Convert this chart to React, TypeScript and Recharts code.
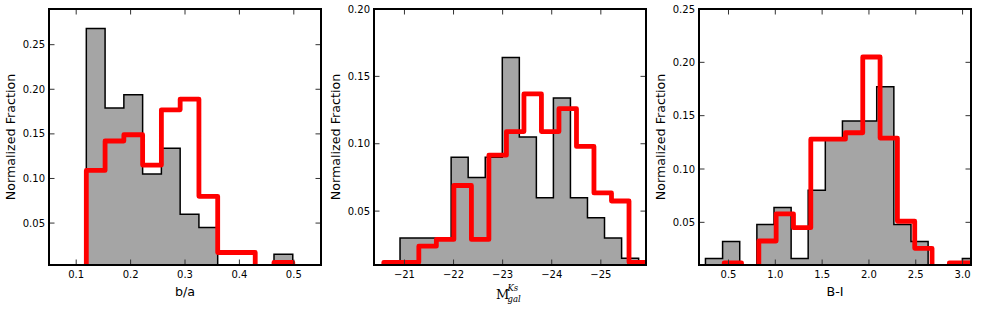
import React from "react";
import { Area, ComposedChart, Line, XAxis, YAxis } from "recharts";

// b/a panel
const baEdges = [0.1186, 0.1531, 0.1876, 0.2221, 0.2566, 0.2911, 0.3256, 0.3601, 0.3946, 0.4291, 0.4636, 0.4981];
const baSample = [0.268, 0.179, 0.194, 0.105, 0.134, 0.06, 0.045, 0, 0, 0, 0.015];
const baRed = [0.109, 0.142, 0.149, 0.115, 0.177, 0.189, 0.08, 0.017, 0.017, 0, 0.006];
const baTicks = [0.1, 0.2, 0.3, 0.4, 0.5];

// M_gal^Ks panel
const magEdges = [-20.91, -21.257, -21.604, -21.951, -22.298, -22.646, -22.993, -23.34, -23.687, -24.034, -24.381, -24.728, -25.075, -25.423, -25.77];
const magSample = [0.03, 0.03, 0.03, 0.09, 0.075, 0.09, 0.164, 0.105, 0.06, 0.134, 0.06, 0.045, 0.03, 0.015];
const magRedEdges = [-20.58, -20.937, -21.293, -21.65, -22.007, -22.364, -22.72, -23.077, -23.434, -23.79, -24.147, -24.504, -24.86, -25.217, -25.574, -25.93];
const magRed = [0.012, 0.012, 0.024, 0.029, 0.069, 0.029, 0.0915, 0.109, 0.137, 0.109, 0.126, 0.098, 0.0635, 0.0575, 0.012];
const magTicks = [-21, -22, -23, -24, -25];

// B-I panel
const biEdges = [0.254, 0.437, 0.62, 0.803, 0.986, 1.169, 1.351, 1.534, 1.717, 1.9, 2.083, 2.266, 2.449, 2.632, 2.815, 2.998, 3.18];
const biSample = [0.016, 0.032, 0, 0.048, 0.064, 0.016, 0.08, 0.127, 0.145, 0.145, 0.177, 0.048, 0.032, 0, 0, 0.016];
const biRedEdges = [0.454, 0.639, 0.824, 1.009, 1.194, 1.379, 1.564, 1.749, 1.934, 2.119, 2.304, 2.489, 2.674, 2.859, 3.044, 3.229];
const biRed = [0.012, 0, 0.0325, 0.058, 0.045, 0.128, 0.128, 0.134, 0.205, 0.129, 0.051, 0.0256, 0, 0.012, 0.012];
const biTicks = [0.5, 1.0, 1.5, 2.0, 2.5, 3.0];

const fracTicks5 = [0.05, 0.1, 0.15, 0.2, 0.25];
const fracTicks4 = [0.05, 0.1, 0.15, 0.2];

const W = 327;
const H = 312;
const PL = 49;
const PT = 9;
const PW = 272;
const PH = 256;
const TICK = 5.5;
const FONT = "'DejaVu Sans', Verdana, sans-serif";

// outline of a step histogram: up from zero at first edge, down to zero at last
function stepRows(edges: number[], vals: number[]) {
  const rows = [{ x: edges[0], y: 0 }];
  vals.forEach((v, i) => rows.push({ x: edges[i], y: v }));
  rows.push({ x: edges[edges.length - 1], y: 0 });
  return rows;
}

function XTick(props: any) {
  const { x, payload, fmt } = props;
  return (
    <g>
      <line x1={x} x2={x} y1={PT + PH} y2={PT + PH - TICK} stroke="#333" strokeWidth={1} />
      <line x1={x} x2={x} y1={PT} y2={PT + TICK} stroke="#333" strokeWidth={1} />
      <text x={x} y={278} textAnchor="middle" fontFamily={FONT} fontSize={10} fill="#000">
        {fmt(payload.value)}
      </text>
    </g>
  );
}

function YTick(props: any) {
  const { y, payload } = props;
  return (
    <g>
      <line x1={PL} x2={PL + TICK} y1={y} y2={y} stroke="#333" strokeWidth={1} />
      <line x1={PL + PW - TICK} x2={PL + PW} y1={y} y2={y} stroke="#333" strokeWidth={1} />
      <text x={PL - 4} y={y + 3.6} textAnchor="end" fontFamily={FONT} fontSize={10} fill="#000">
        {payload.value.toFixed(2)}
      </text>
    </g>
  );
}

const yLabel = () => (
  <text
    x={10}
    y={137}
    transform="rotate(-90 10 137)"
    textAnchor="middle"
    dominantBaseline="central"
    fontFamily={FONT}
    fontSize={12.7}
    fill="#000"
  >
    Normalized Fraction
  </text>
);

const plainXLabel = (text: string) => () => (
  <text x={PL + PW / 2} y={296} textAnchor="middle" fontFamily={FONT} fontSize={12.7} fill="#000">
    {text}
  </text>
);

const mathXLabel = () => {
  const cx = PL + PW / 2;
  const serif = "'DejaVu Serif', 'Liberation Serif', serif";
  return (
    <g fontFamily={serif} fill="#000">
      <text x={cx - 14} y={299} fontSize={13}>M</text>
      <text x={cx - 2.5} y={291} fontSize={8.5} fontStyle="italic">Ks</text>
      <text x={cx - 2.5} y={302} fontSize={8.5} fontStyle="italic">gal</text>
    </g>
  );
};

interface PanelProps {
  left: number;
  edges: number[];
  sample: number[];
  redEdges: number[];
  red: number[];
  xDomain: [number, number];
  xTicks: number[];
  reversed?: boolean;
  yDomain: [number, number];
  yTicks: number[];
  fmt: (v: number) => string;
  xLabel: any;
}

function Panel(p: PanelProps) {
  return (
    <div style={{ position: "absolute", left: p.left, top: 0, width: W, height: H }}>
      <ComposedChart width={W} height={H} margin={{ top: PT, right: W - PL - PW, bottom: 0, left: 0 }}>
        <XAxis
          dataKey="x"
          type="number"
          domain={p.xDomain}
          reversed={p.reversed}
          allowDataOverflow
          ticks={p.xTicks}
          interval={0}
          height={H - PT - PH}
          tickSize={0}
          tickMargin={0}
          axisLine={false}
          tickLine={false}
          tick={(t: any) => <XTick {...t} fmt={p.fmt} />}
          label={p.xLabel}
        />
        <YAxis
          type="number"
          domain={p.yDomain}
          allowDataOverflow
          ticks={p.yTicks}
          interval={0}
          width={PL}
          tickSize={0}
          tickMargin={0}
          axisLine={false}
          tickLine={false}
          tick={(t: any) => <YTick {...t} />}
          label={yLabel}
        />
        <Area
          data={stepRows(p.edges, p.sample)}
          type="stepAfter"
          dataKey="y"
          fill="#a5a5a5"
          fillOpacity={1}
          stroke="#000"
          strokeWidth={1.5}
          dot={false}
          activeDot={false}
          isAnimationActive={false}
        />
        <Line
          data={stepRows(p.redEdges, p.red)}
          type="stepAfter"
          dataKey="y"
          stroke="#ff0000"
          strokeWidth={4.8}
          strokeLinejoin="round"
          dot={false}
          activeDot={false}
          isAnimationActive={false}
        />
      </ComposedChart>
      <div
        style={{
          position: "absolute",
          left: PL - 1,
          top: PT - 1,
          width: PW + 2,
          height: PH + 2,
          border: "2px solid #000",
          boxSizing: "border-box",
          pointerEvents: "none",
        }}
      />
    </div>
  );
}

export default function App() {
  return (
    <div style={{ position: "absolute", left: 0, top: 0, width: 981, height: 312, background: "#fff" }}>
      <Panel
        left={0}
        edges={baEdges}
        sample={baSample}
        redEdges={baEdges}
        red={baRed}
        xDomain={[0.05, 0.55]}
        xTicks={baTicks}
        yDomain={[0.003, 0.29]}
        yTicks={fracTicks5}
        fmt={(v) => v.toFixed(1)}
        xLabel={plainXLabel("b/a")}
      />
      <Panel
        left={325}
        edges={magEdges}
        sample={magSample}
        redEdges={magRedEdges}
        red={magRed}
        xDomain={[-25.92, -20.38]}
        reversed
        xTicks={magTicks}
        yDomain={[0.01, 0.2]}
        yTicks={fracTicks4}
        fmt={(v) => "\u2212" + Math.abs(v)}
        xLabel={mathXLabel}
      />
      <Panel
        left={650}
        edges={biEdges}
        sample={biSample}
        redEdges={biRedEdges}
        red={biRed}
        xDomain={[0.185, 3.09]}
        xTicks={biTicks}
        yDomain={[0.01, 0.25]}
        yTicks={fracTicks5}
        fmt={(v) => v.toFixed(1)}
        xLabel={plainXLabel("B-I")}
      />
    </div>
  );
}
